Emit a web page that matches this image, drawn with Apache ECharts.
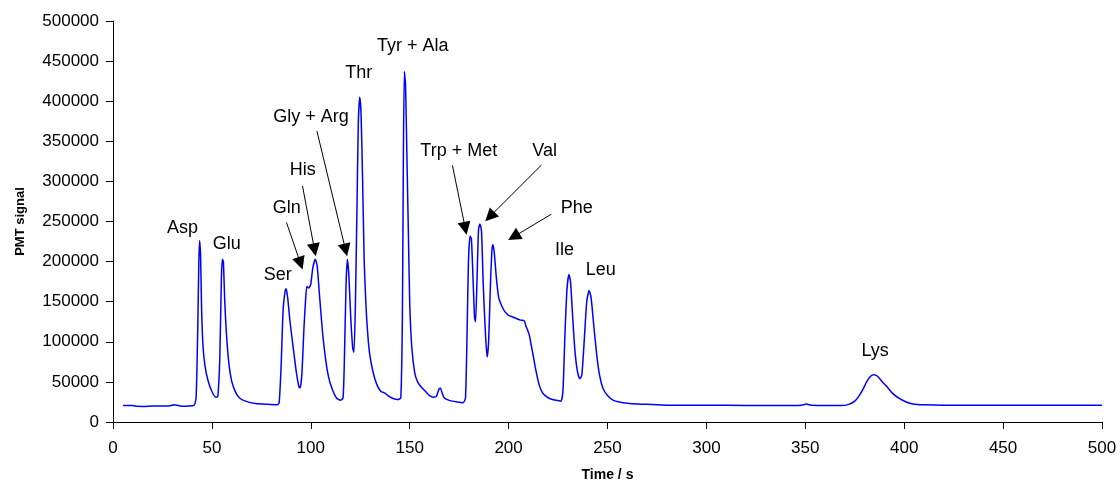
<!DOCTYPE html>
<html>
<head>
<meta charset="utf-8">
<title>PMT signal</title>
<script src="https://cdn.jsdelivr.net/npm/echarts@6/dist/echarts.min.js"></script>
<style>
  html, body { margin: 0; padding: 0; background: #fff; }
  #chart { width: 1120px; height: 487px; }
</style>
</head>
<body>
<div id="chart"></div>
<script>
// trace: time (s) / PMT signal
const time = [
  5, 10, 12, 15, 20, 25, 29, 31, 33, 35, 38, 41,
  42, 42.8, 43.4, 43.8, 44.3, 44.8, 45.5, 46.5, 48, 50, 52, 53,
  54, 54.8, 55.3, 55.8, 56.5, 57.3, 58.5, 60, 62, 64, 67, 72, 78, 83,
  84, 85, 86, 87, 87.5, 88.3, 89.5, 91, 92.7, 94, 94.6, 95.5, 96.5, 97.3, 98, 99, 100, 101, 102.3, 103.2, 104.5, 106, 107.5, 109, 111, 113, 115, 116.3,
  117, 117.8, 118.5, 119.2, 120.2, 121.2, 121.8, 122.5, 123.3, 124, 124.7, 125.4, 126.2, 127, 128, 129.5, 131.5, 133.5, 135.5, 137.5, 139, 141, 144, 145.5,
  146.3, 146.8, 147.3, 147.9, 148.6, 149.3, 150, 151, 152.5, 154, 156, 158, 160, 162, 163.5, 164.8, 165.5, 166.3, 167.5, 170, 174, 177, 178.2,
  179, 179.7, 180.5, 181.2, 182, 182.8, 183.3, 184, 184.8, 185.5, 186.3, 187.2, 188.3, 189.1, 189.9, 190.8, 191.6, 192.1, 192.8, 193.8, 195, 196.5, 198, 200, 202, 204, 206, 208, 208.7, 209.4, 210.5, 211.5, 212.5, 213.5, 214.5, 215.5, 217, 219, 221, 224, 226.5,
  227.5, 228.5, 229.5, 230.5, 231.3, 232.3, 233.5, 234.8, 236, 237, 238.2, 239.5, 240.7, 241.7, 243, 244.5, 246, 247.7, 250, 253, 256, 260, 265, 270, 280, 300, 320, 340, 348, 350.5, 353, 360, 368,
  372, 375, 377, 379.2, 381, 383, 384.6, 386.5, 389, 391, 394, 397.7, 401, 404.4, 410, 420, 440, 460, 480, 500
];
const signal = [
  20500, 20500, 19500, 19300, 19800, 19900, 20200, 21500, 20500, 19500, 19800, 20800,
  30000, 110000, 200000, 226000, 205000, 140000, 95000, 70000, 52000, 38000, 31000, 32000,
  80000, 180000, 203000, 200000, 150000, 112000, 75000, 51000, 37000, 30000, 26000, 23000, 22000, 21500,
  24000, 70000, 140000, 163000, 166000, 155000, 125000, 95000, 62000, 44000, 42500, 60000, 115000, 150000, 169000, 167000, 172000, 192000, 203000, 195000, 155000, 110000, 78000, 56000, 40000, 30000, 27000, 30000,
  80000, 170000, 203000, 185000, 130000, 92000, 87000, 140000, 260000, 370000, 405000, 385000, 300000, 200000, 140000, 90000, 62000, 46000, 38000, 36000, 33000, 30000, 28000, 30000,
  130000, 330000, 437000, 420000, 330000, 240000, 150000, 95000, 62000, 50000, 43000, 38000, 33000, 31000, 32000, 41000, 42500, 37000, 30000, 27000, 25000, 24000, 30000,
  110000, 200000, 232000, 228000, 180000, 130000, 125000, 175000, 240000, 247000, 238000, 170000, 110000, 81000, 100000, 170000, 215000, 221000, 210000, 180000, 155000, 145000, 138000, 133000, 131000, 129000, 127000, 126000, 120000, 116000, 108000, 95000, 82000, 68000, 56000, 46000, 37000, 32000, 29000, 27000, 26000,
  40000, 110000, 165000, 184000, 175000, 135000, 90000, 63000, 54000, 58000, 100000, 150000, 164000, 155000, 122000, 85000, 58000, 42000, 33000, 27000, 25000, 23500, 22500, 22000, 21000, 21000, 20600, 20500, 21000, 22300, 21000, 20500, 20500,
  22000, 26000, 32000, 41000, 50000, 57000, 59000, 57000, 50000, 44800, 36000, 29000, 25000, 22500, 21500, 21000, 21000, 20800, 21000, 21000
];

// peak names and where they sit (data coords)
const peakNames = ['Asp', 'Glu', 'Ser', 'Gln', 'His', 'Gly + Arg', 'Thr', 'Tyr + Ala', 'Trp + Met', 'Val', 'Phe', 'Ile', 'Leu', 'Lys'];
const nameX = [35.2, 57.5, 83.3, 87.8, 95.9, 100.1, 124.2, 151.5, 174.8, 218.2, 234.4, 228.3, 246.6, 385.3];
const nameY = [241700, 221800, 183200, 266300, 313800, 379700, 435700, 469300, 337500, 337500, 266300, 214300, 189400, 88700];

// arrows: from -> to
const arrowFrom = [[87.7, 248800], [95.8, 294300], [103.1, 362700], [171.6, 320000], [216.6, 320400], [221.6, 259100]];
const arrowTo = [[94.8, 197800], [101.9, 214600], [117.6, 214400], [178.1, 241500], [190.5, 256100], [202.6, 231000]];

const xTicks = { min: 0, max: 500, interval: 50 };
const yTicks = { min: 0, max: 500000, interval: 50000 };

const font = 'Liberation Sans, Arial, sans-serif';

const chart = echarts.init(document.getElementById('chart'), null, { renderer: 'canvas' });

const trace = time.map((t, i) => [t, signal[i]]);
const labels = peakNames.map((n, i) => [nameX[i], nameY[i], n]);
const arrows = arrowFrom.map((f, i) => [{ coord: f }, { coord: arrowTo[i] }]);

chart.setOption({
  animation: false,
  backgroundColor: '#fff',
  grid: { left: 113, right: 18, top: 21, bottom: 64, containLabel: false },
  xAxis: {
    type: 'value',
    min: xTicks.min,
    max: xTicks.max,
    interval: xTicks.interval,
    name: 'Time / s',
    nameLocation: 'middle',
    nameGap: 46,
    nameTextStyle: { fontFamily: font, fontWeight: 'bold', fontSize: 14, color: '#000' },
    axisLine: { lineStyle: { color: '#000', width: 1 } },
    axisTick: { show: true, length: 7, lineStyle: { color: '#000' } },
    axisLabel: { fontFamily: font, fontSize: 17, color: '#000', margin: 18 },
    splitLine: { show: false }
  },
  yAxis: {
    type: 'value',
    min: yTicks.min,
    max: yTicks.max,
    interval: yTicks.interval,
    name: 'PMT signal',
    nameLocation: 'middle',
    nameGap: 86,
    nameTextStyle: { fontFamily: font, fontWeight: 'bold', fontSize: 13, color: '#000' },
    axisLine: { show: true, lineStyle: { color: '#000', width: 1 } },
    axisTick: { show: true, length: 7, lineStyle: { color: '#000' } },
    axisLabel: { fontFamily: font, fontSize: 17, color: '#000', margin: 14, formatter: v => String(v) },
    splitLine: { show: false }
  },
  series: [
    {
      type: 'line',
      data: trace,
      showSymbol: false,
      symbol: 'none',
      smooth: 0.2,
      lineStyle: { color: '#0000ff', width: 1.5 },
      silent: true
    },
    {
      type: 'scatter',
      data: labels,
      symbolSize: 0,
      silent: true,
      itemStyle: { opacity: 1 },
      label: {
        show: true,
        position: 'inside',
        formatter: p => p.data[2],
        fontFamily: font,
        fontSize: 18,
        color: '#000',
        opacity: 1
      }
    },
    {
      type: 'line',
      data: [],
      silent: true,
      markLine: {
        silent: true,
        symbol: ['none', 'triangle'],
        symbolSize: 13,
        label: { show: false },
        lineStyle: { color: '#000', width: 1, type: 'solid' },
        emphasis: { disabled: true },
        data: arrows
      }
    }
  ]
});
</script>
</body>
</html>
